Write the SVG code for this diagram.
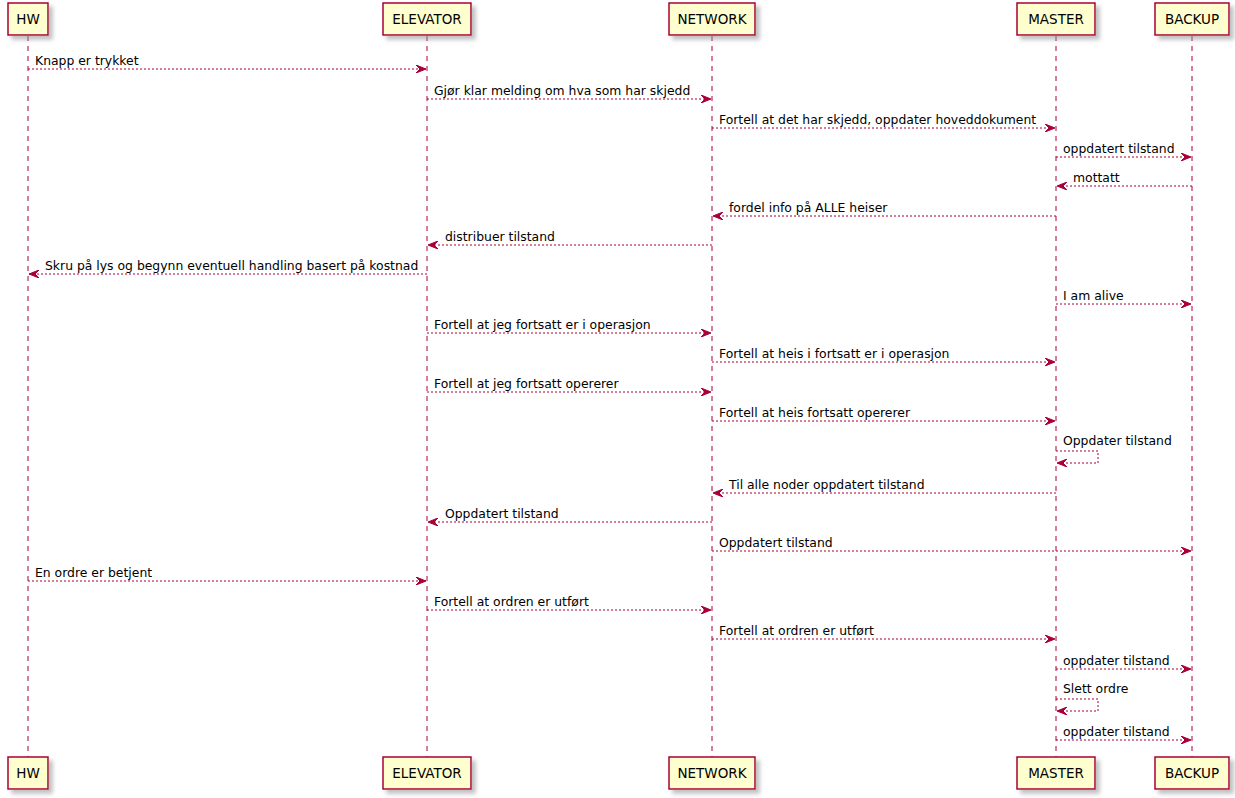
<svg xmlns="http://www.w3.org/2000/svg" width="1235" height="798" viewBox="0 0 1235 798">
<defs>
<filter id="sh" x="-20%" y="-20%" width="150%" height="160%">
<feGaussianBlur in="SourceAlpha" stdDeviation="2"/>
<feOffset dx="4" dy="4" result="b"/>
<feColorMatrix in="b" type="matrix" values="0 0 0 0 0.3  0 0 0 0 0.3  0 0 0 0 0.3  0 0 0 0.6 0"/>
<feMerge><feMergeNode/><feMergeNode in="SourceGraphic"/></feMerge>
</filter>
<marker id="ah" viewBox="0 0 11 8" refX="10" refY="4" markerWidth="11" markerHeight="8" markerUnits="userSpaceOnUse" orient="auto">
<polygon points="0,0 10,4 0,8 4,4" fill="#A80036" stroke="#A80036" stroke-width="1"/>
</marker>
</defs>
<style>
.life{stroke:#A80036;stroke-width:1;stroke-dasharray:5,5;fill:none}
.box{fill:#FEFECE;stroke:#A80036;stroke-width:1.5;filter:url(#sh)}
.pt{font-family:"DejaVu Sans",sans-serif;font-size:13.5px;fill:#000;text-anchor:middle}
.msg{stroke:#A80036;stroke-width:1;stroke-dasharray:2,2;fill:none;marker-end:url(#ah)}
.lb{font-family:"DejaVu Sans",sans-serif;font-size:12.4px;fill:#000}
</style>
<rect width="1235" height="798" fill="#FFFFFF"/>
<g id="lifelines">
<line class="life" x1="28" y1="36" x2="28" y2="757"/>
<line class="life" x1="427" y1="36" x2="427" y2="757"/>
<line class="life" x1="712" y1="36" x2="712" y2="757"/>
<line class="life" x1="1056" y1="36" x2="1056" y2="757"/>
<line class="life" x1="1192" y1="36" x2="1192" y2="757"/>
</g>
<g id="HW">
<rect class="box" x="8" y="3" width="40" height="32"/>
<text class="pt" x="28" y="24">HW</text>
<rect class="box" x="8" y="757" width="40" height="32"/>
<text class="pt" x="28" y="778">HW</text>
</g>
<g id="ELEVATOR">
<rect class="box" x="383" y="3" width="88" height="32"/>
<text class="pt" x="427" y="24">ELEVATOR</text>
<rect class="box" x="383" y="757" width="88" height="32"/>
<text class="pt" x="427" y="778">ELEVATOR</text>
</g>
<g id="NETWORK">
<rect class="box" x="669" y="3" width="86" height="32"/>
<text class="pt" x="712" y="24">NETWORK</text>
<rect class="box" x="669" y="757" width="86" height="32"/>
<text class="pt" x="712" y="778">NETWORK</text>
</g>
<g id="MASTER">
<rect class="box" x="1017" y="3" width="78" height="32"/>
<text class="pt" x="1056" y="24">MASTER</text>
<rect class="box" x="1017" y="757" width="78" height="32"/>
<text class="pt" x="1056" y="778">MASTER</text>
</g>
<g id="BACKUP">
<rect class="box" x="1155" y="3" width="74" height="32"/>
<text class="pt" x="1192" y="24">BACKUP</text>
<rect class="box" x="1155" y="757" width="74" height="32"/>
<text class="pt" x="1192" y="778">BACKUP</text>
</g>
<g id="connectors">
<line class="msg" x1="28" y1="69" x2="426" y2="69"/>
<text class="lb" x="35" y="65">Knapp er trykket</text>
<line class="msg" x1="427" y1="99" x2="711" y2="99"/>
<text class="lb" x="434" y="95">Gjør klar melding om hva som har skjedd</text>
<line class="msg" x1="712" y1="128" x2="1055" y2="128"/>
<text class="lb" x="719" y="124">Fortell at det har skjedd, oppdater hoveddokument</text>
<line class="msg" x1="1056" y1="157" x2="1191" y2="157"/>
<text class="lb" x="1063" y="153">oppdatert tilstand</text>
<line class="msg" x1="1192" y1="186" x2="1057" y2="186"/>
<text class="lb" x="1073" y="182">mottatt</text>
<line class="msg" x1="1056" y1="216" x2="713" y2="216"/>
<text class="lb" x="729" y="212">fordel info på ALLE heiser</text>
<line class="msg" x1="712" y1="245" x2="428" y2="245"/>
<text class="lb" x="445" y="241">distribuer tilstand</text>
<line class="msg" x1="427" y1="274" x2="29" y2="274"/>
<text class="lb" x="45" y="270">Skru på lys og begynn eventuell handling basert på kostnad</text>
<line class="msg" x1="1056" y1="304" x2="1191" y2="304"/>
<text class="lb" x="1063" y="300">I am alive</text>
<line class="msg" x1="427" y1="333" x2="711" y2="333"/>
<text class="lb" x="434" y="329">Fortell at jeg fortsatt er i operasjon</text>
<line class="msg" x1="712" y1="362" x2="1055" y2="362"/>
<text class="lb" x="719" y="358">Fortell at heis i fortsatt er i operasjon</text>
<line class="msg" x1="427" y1="392" x2="711" y2="392"/>
<text class="lb" x="434" y="388">Fortell at jeg fortsatt opererer</text>
<line class="msg" x1="712" y1="421" x2="1055" y2="421"/>
<text class="lb" x="719" y="417">Fortell at heis fortsatt opererer</text>
<polyline class="msg" points="1056,451 1098,451 1098,463 1057,463"/>
<text class="lb" x="1063" y="445">Oppdater tilstand</text>
<line class="msg" x1="1056" y1="493" x2="713" y2="493"/>
<text class="lb" x="729" y="489">Til alle noder oppdatert tilstand</text>
<line class="msg" x1="712" y1="522" x2="428" y2="522"/>
<text class="lb" x="445" y="518">Oppdatert tilstand</text>
<line class="msg" x1="712" y1="551" x2="1191" y2="551"/>
<text class="lb" x="719" y="547">Oppdatert tilstand</text>
<line class="msg" x1="28" y1="581" x2="426" y2="581"/>
<text class="lb" x="35" y="577">En ordre er betjent</text>
<line class="msg" x1="427" y1="610" x2="711" y2="610"/>
<text class="lb" x="434" y="606">Fortell at ordren er utført</text>
<line class="msg" x1="712" y1="639" x2="1055" y2="639"/>
<text class="lb" x="719" y="635">Fortell at ordren er utført</text>
<line class="msg" x1="1056" y1="669" x2="1191" y2="669"/>
<text class="lb" x="1063" y="665">oppdater tilstand</text>
<polyline class="msg" points="1056,699 1098,699 1098,711 1057,711"/>
<text class="lb" x="1063" y="693">Slett ordre</text>
<line class="msg" x1="1056" y1="740" x2="1191" y2="740"/>
<text class="lb" x="1063" y="736">oppdater tilstand</text>
</g>
</svg>
